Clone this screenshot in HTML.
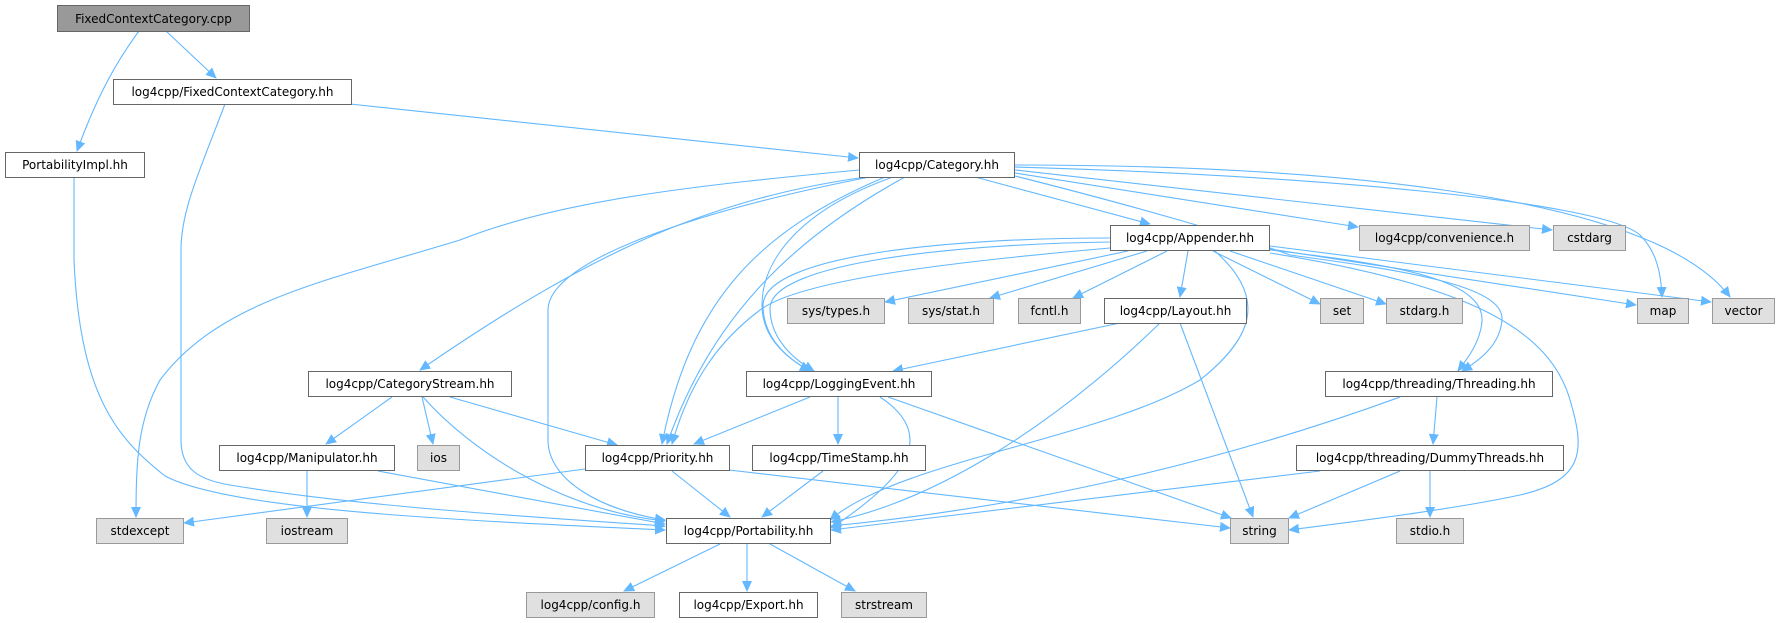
<!DOCTYPE html>
<html><head><meta charset="utf-8"><style>
html,body{margin:0;padding:0;background:#fff;}
svg{display:block;}
text{font-family:"DejaVu Sans","Liberation Sans",sans-serif;font-size:12px;fill:#000;}
.e{fill:none;stroke:#63b8ff;stroke-width:1.1;marker-end:url(#a);}
.w{fill:#fff;stroke:#666;stroke-width:1;}
.g{fill:#e0e0e0;stroke:#999;stroke-width:1;}
.r{fill:#999;stroke:#666;stroke-width:1;}
</style></head><body>
<svg width="1782" height="623" viewBox="0 0 1782 623" xmlns="http://www.w3.org/2000/svg">
<defs><marker id="a" markerWidth="11" markerHeight="10" refX="10" refY="5" orient="auto" markerUnits="userSpaceOnUse"><path d="M0,0 L11,5 L0,10 z" fill="#63b8ff"/></marker></defs>

<!-- edges -->
<path class="e" d="M139,31 C110,70 92,110 77,151"/>
<path class="e" d="M166,31 L216,78"/>
<path class="e" d="M350,104 L858,158"/>
<path class="e" d="M225,104 C200,170 181,210 181,250 L181,440 C181,470 200,480 230,485 C350,505 500,515 665,526"/>
<path class="e" d="M74,177 L74,260 C80,400 120,440 165,476 C230,510 450,520 665,530"/>
<path class="e" d="M859,170 C700,185 560,200 460,240 C330,280 220,300 160,380 C138,420 136,460 136,517"/>
<path class="e" d="M866,177 C700,200 580,260 420,370"/>
<path class="e" d="M870,177 C700,210 548,260 548,310 L548,440 C548,480 600,510 665,520"/>
<path class="e" d="M885,177 C760,230 690,300 662,444"/>
<path class="e" d="M905,177 C790,240 710,320 667,444"/>
<path class="e" d="M893,177 C800,210 762,260 762,305 C762,340 790,360 810,371"/>
<path class="e" d="M975,177 L1150,224"/>
<path class="e" d="M1015,173 L1358,227"/>
<path class="e" d="M1015,170 L1552,230"/>
<path class="e" d="M1015,167 C1300,175 1600,200 1640,235 C1655,250 1661,270 1662,297"/>
<path class="e" d="M1015,165 C1300,165 1650,190 1730,297"/>
<path class="e" d="M1015,176 C1150,210 1250,240 1290,255 C1400,270 1505,285 1502,320 C1500,345 1480,360 1462,371"/>
<path class="e" d="M1128,251 L885,302"/>
<path class="e" d="M1147,251 L990,298"/>
<path class="e" d="M1167,251 L1073,298"/>
<path class="e" d="M1188,251 L1180,297"/>
<path class="e" d="M1213,251 L1320,304"/>
<path class="e" d="M1230,251 L1386,304"/>
<path class="e" d="M1270,249 L1636,305"/>
<path class="e" d="M1270,246 L1711,302"/>
<path class="e" d="M1270,250 C1400,265 1485,280 1482,322 C1480,342 1468,358 1458,371"/>
<path class="e" d="M1270,253 C1470,285 1550,330 1570,400 C1585,450 1585,480 1520,495 C1450,510 1350,522 1289,530"/>
<path class="e" d="M1215,251 C1270,300 1250,340 1200,380 C1100,440 900,460 830,520"/>
<path class="e" d="M1110,238 C950,238 765,255 763,305 C763,340 790,360 810,371"/>
<path class="e" d="M1110,242 C960,244 772,262 770,308 C770,340 795,360 814,371"/>
<path class="e" d="M1110,248 C950,262 800,280 760,310 C720,340 690,380 672,444"/>
<path class="e" d="M1120,323 L893,371"/>
<path class="e" d="M1160,323 C1060,420 940,500 831,522"/>
<path class="e" d="M1180,323 L1253,517"/>
<path class="e" d="M810,397 L694,444"/>
<path class="e" d="M838,397 L838,444"/>
<path class="e" d="M880,397 C930,430 920,470 831,528"/>
<path class="e" d="M888,397 L1231,518"/>
<path class="e" d="M392,397 L326,444"/>
<path class="e" d="M422,397 L433,444"/>
<path class="e" d="M450,397 L617,445"/>
<path class="e" d="M423,397 C470,450 560,510 665,521"/>
<path class="e" d="M585,469 L184,523"/>
<path class="e" d="M672,471 L730,517"/>
<path class="e" d="M729,470 L1230,528"/>
<path class="e" d="M378,471 L665,524"/>
<path class="e" d="M307,471 L307,517"/>
<path class="e" d="M823,471 L762,517"/>
<path class="e" d="M1400,397 C1200,470 1000,510 831,526"/>
<path class="e" d="M1437,397 L1433,444"/>
<path class="e" d="M1320,471 L831,530"/>
<path class="e" d="M1400,471 L1289,518"/>
<path class="e" d="M1430,471 L1430,517"/>
<path class="e" d="M720,544 L624,591"/>
<path class="e" d="M747,544 L747,591"/>
<path class="e" d="M770,544 L855,591"/>

<!-- nodes -->
<rect class="r" x="57.5" y="5.5" width="192" height="26"/><text x="153.5" y="23" text-anchor="middle">FixedContextCategory.cpp</text>
<rect class="w" x="113.5" y="79.5" width="238" height="25"/><text x="232.5" y="96" text-anchor="middle">log4cpp/FixedContextCategory.hh</text>
<rect class="w" x="5.5" y="152.5" width="139" height="25"/><text x="75" y="169" text-anchor="middle">PortabilityImpl.hh</text>
<rect class="w" x="859.5" y="152.5" width="155" height="25"/><text x="937" y="169" text-anchor="middle">log4cpp/Category.hh</text>
<rect class="w" x="1110.5" y="225.5" width="159" height="25"/><text x="1190" y="242" text-anchor="middle">log4cpp/Appender.hh</text>
<rect class="g" x="1359.5" y="225.5" width="170" height="25"/><text x="1444.5" y="242" text-anchor="middle">log4cpp/convenience.h</text>
<rect class="g" x="1553.5" y="225.5" width="72" height="25"/><text x="1589.5" y="242" text-anchor="middle">cstdarg</text>
<rect class="g" x="787.5" y="298.5" width="97" height="25"/><text x="836" y="315" text-anchor="middle">sys/types.h</text>
<rect class="g" x="908.5" y="298.5" width="85" height="25"/><text x="951" y="315" text-anchor="middle">sys/stat.h</text>
<rect class="g" x="1018.5" y="298.5" width="62" height="25"/><text x="1049.5" y="315" text-anchor="middle">fcntl.h</text>
<rect class="w" x="1104.5" y="298.5" width="142" height="25"/><text x="1175.5" y="315" text-anchor="middle">log4cpp/Layout.hh</text>
<rect class="g" x="1320.5" y="298.5" width="43" height="25"/><text x="1342" y="315" text-anchor="middle">set</text>
<rect class="g" x="1386.5" y="298.5" width="76" height="25"/><text x="1424.5" y="315" text-anchor="middle">stdarg.h</text>
<rect class="g" x="1637.5" y="298.5" width="51" height="25"/><text x="1663" y="315" text-anchor="middle">map</text>
<rect class="g" x="1712.5" y="298.5" width="62" height="25"/><text x="1743.5" y="315" text-anchor="middle">vector</text>
<rect class="w" x="308.5" y="371.5" width="203" height="25"/><text x="410" y="388" text-anchor="middle">log4cpp/CategoryStream.hh</text>
<rect class="w" x="746.5" y="371.5" width="185" height="25"/><text x="839" y="388" text-anchor="middle">log4cpp/LoggingEvent.hh</text>
<rect class="w" x="1325.5" y="371.5" width="227" height="25"/><text x="1439" y="388" text-anchor="middle">log4cpp/threading/Threading.hh</text>
<rect class="w" x="219.5" y="445.5" width="175" height="25"/><text x="307" y="462" text-anchor="middle">log4cpp/Manipulator.hh</text>
<rect class="g" x="417.5" y="445.5" width="42" height="25"/><text x="438.5" y="462" text-anchor="middle">ios</text>
<rect class="w" x="585.5" y="445.5" width="144" height="25"/><text x="657.5" y="462" text-anchor="middle">log4cpp/Priority.hh</text>
<rect class="w" x="752.5" y="445.5" width="173" height="25"/><text x="839" y="462" text-anchor="middle">log4cpp/TimeStamp.hh</text>
<rect class="w" x="1296.5" y="445.5" width="267" height="25"/><text x="1430" y="462" text-anchor="middle">log4cpp/threading/DummyThreads.hh</text>
<rect class="g" x="96.5" y="518.5" width="87" height="25"/><text x="140" y="535" text-anchor="middle">stdexcept</text>
<rect class="g" x="266.5" y="518.5" width="81" height="25"/><text x="307" y="535" text-anchor="middle">iostream</text>
<rect class="w" x="666.5" y="518.5" width="164" height="25"/><text x="748.5" y="535" text-anchor="middle">log4cpp/Portability.hh</text>
<rect class="g" x="1230.5" y="518.5" width="58" height="25"/><text x="1259.5" y="535" text-anchor="middle">string</text>
<rect class="g" x="1396.5" y="518.5" width="67" height="25"/><text x="1430" y="535" text-anchor="middle">stdio.h</text>
<rect class="g" x="526.5" y="592.5" width="128" height="25"/><text x="590.5" y="609" text-anchor="middle">log4cpp/config.h</text>
<rect class="w" x="679.5" y="592.5" width="138" height="25"/><text x="748.5" y="609" text-anchor="middle">log4cpp/Export.hh</text>
<rect class="g" x="841.5" y="592.5" width="85" height="25"/><text x="884" y="609" text-anchor="middle">strstream</text>
</svg>
</body></html>
